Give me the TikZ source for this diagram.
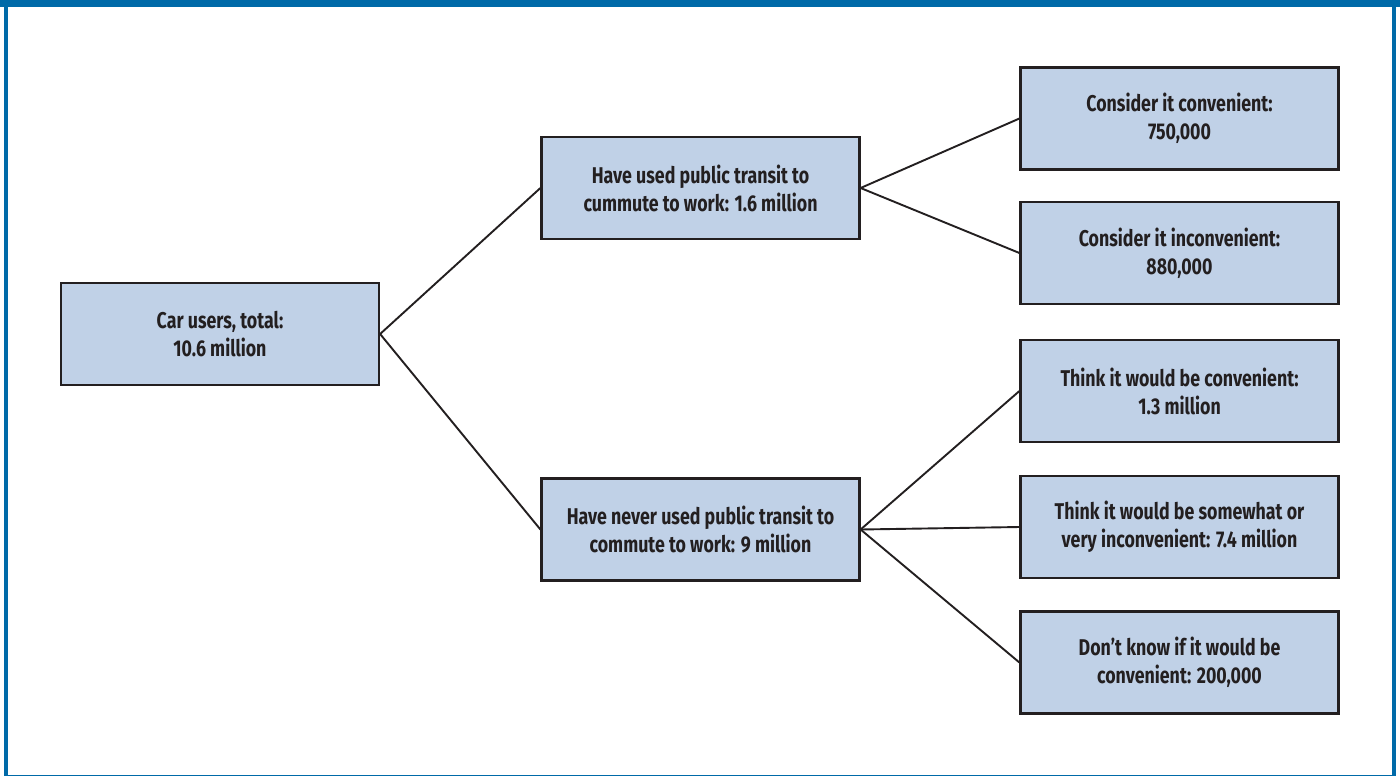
\documentclass[tikz,border=0pt]{standalone}
\usepackage{fontspec}
\setmainfont[FakeStretch=0.78,BoldFont={Fira Sans Bold}]{Fira Sans}
\definecolor{frameblue}{HTML}{006AA8}
\definecolor{boxfill}{HTML}{C0D1E7}
\definecolor{ink}{HTML}{231F20}
\begin{document}
\begin{tikzpicture}[x=0.5pt,y=-0.5pt,
  box/.style={draw=ink,line width=1.1pt,fill=boxfill,minimum width=159pt,minimum height=51pt,
    align=center,inner sep=0pt,font=\bfseries\fontsize{11.4}{14}\selectfont,text=ink},
  link/.style={draw=ink,line width=0.95pt}]
\useasboundingbox (0,0) rectangle (1400,776);
\fill[white] (0,0) rectangle (1400,776);
\fill[frameblue] (0,0) rectangle (1400,7);
\fill[frameblue] (4,0) rectangle (7.5,776);
\fill[frameblue] (1392,0) rectangle (1396,776);
\fill[frameblue] (4,774.8) rectangle (1396,776);
\node[box] (root) at (220,334) {Car users, total:\\10.6 million};
\node[box] (m1) at (700.5,188) {Have used public transit to\\cummute to work: 1.6 million};
\node[box] (m2) at (700.5,529.5) {Have never used public transit to\\commute to work: 9 million};
\node[box] (r1) at (1179.5,118.5) {Consider it convenient:\\750,000};
\node[box] (r2) at (1179.5,253) {Consider it inconvenient:\\880,000};
\node[box] (r3) at (1179.5,391) {Think it would be convenient:\\1.3 million};
\node[box] (r4) at (1179.5,527) {Think it would be somewhat or\\very inconvenient: 7.4 million};
\node[box] (r5) at (1179.5,662.5) {Don’t know if it would be\\convenient: 200,000};
\draw[link] (root.east) -- (m1.west);
\draw[link] (root.east) -- (m2.west);
\draw[link] (m1.east) -- (r1.west);
\draw[link] (m1.east) -- (r2.west);
\draw[link] (m2.east) -- (r3.west);
\draw[link] (m2.east) -- (r4.west);
\draw[link] (m2.east) -- (r5.west);
\end{tikzpicture}
\end{document}
